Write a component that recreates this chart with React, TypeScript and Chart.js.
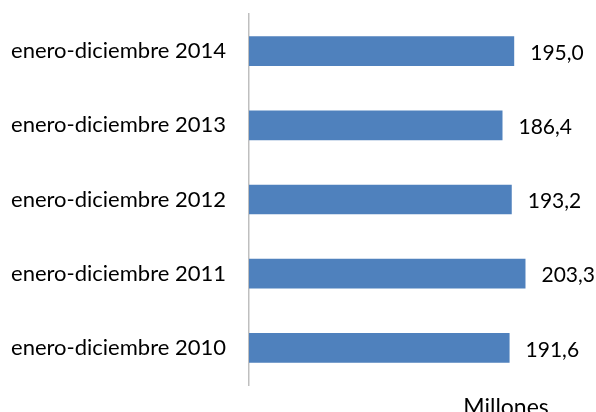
import React, { useEffect, useRef } from "react";
import { Chart, registerables } from "chart.js";

Chart.register(...registerables);

const categories = [
  "enero-diciembre 2014",
  "enero-diciembre 2013",
  "enero-diciembre 2012",
  "enero-diciembre 2011",
  "enero-diciembre 2010",
];
const values = [195.0, 186.4, 193.2, 203.3, 191.6];
const axisTitle = "Millones";
const xMax = 250;

const FONT = "Lato, 'Liberation Sans', sans-serif";

const labelPlugin = {
  id: "valueLabels",
  afterDatasetsDraw(chart: any) {
    const ctx = chart.ctx;
    const meta = chart.getDatasetMeta(0);
    ctx.save();
    ctx.font = `21px ${FONT}`;
    ctx.fillStyle = "#000000";
    ctx.textBaseline = "middle";
    ctx.textAlign = "left";
    meta.data.forEach((bar: any, i: number) => {
      const txt = values[i].toFixed(1).replace(".", ",");
      ctx.fillText(txt, bar.x + 16, bar.y + 2);
    });
    const ca = chart.chartArea;
    ctx.font = `23px ${FONT}`;
    ctx.textAlign = "center";
    ctx.textBaseline = "alphabetic";
    ctx.fillText(axisTitle, ca.left + (ca.right - ca.left) * 0.756, chart.height + 2.5);
    ctx.restore();
  },
};

export default function App() {
  const ref = useRef<HTMLCanvasElement>(null);
  useEffect(() => {
    if (!ref.current) return;
    const chart = new Chart(ref.current, {
      type: "bar",
      data: {
        labels: categories,
        datasets: [
          {
            data: values,
            backgroundColor: "#4F81BD",
            borderWidth: 0,
            categoryPercentage: 0.8,
            barPercentage: 0.5,
          },
        ],
      },
      options: {
        indexAxis: "y",
        responsive: false,
        animation: false,
        layout: { padding: { top: 14, bottom: 27, right: 7, left: 0 } },
        plugins: { legend: { display: false }, tooltip: { enabled: false } },
        scales: {
          x: { display: false, min: 0, max: xMax },
          y: {
            grid: { display: true, color: "rgba(0,0,0,0)", drawTicks: true, tickLength: 23 },
            border: { display: true, color: "#BFBFBF", width: 1.5 },
            ticks: {
              color: "#000000",
              padding: 0,
              font: { family: FONT, size: 22 },
            },
            afterFit(scale: any) {
              scale.width = 249;
            },
          },
        },
      },
      plugins: [labelPlugin],
    });
    return () => chart.destroy();
  }, []);
  return (
    <div style={{ position: "fixed", left: 0, top: 0, width: 596, height: 412, background: "#fff" }}>
      <canvas ref={ref} width={596} height={412} style={{ width: 596, height: 412 }} />
    </div>
  );
}
